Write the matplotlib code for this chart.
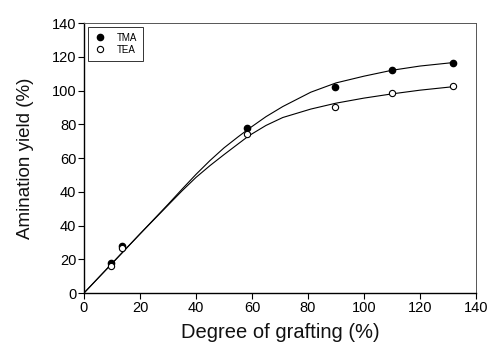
import matplotlib
matplotlib.use("Agg")
import matplotlib.pyplot as plt

plt.rcParams['font.family'] = ['Liberation Sans', 'DejaVu Sans']

# measured points (x = degree of grafting, y in axis units of 20 per tick)
grafting = [9.5, 13.6, 58.2, 89.6, 109.9, 131.7]
tma_yield = [17.8, 27.8, 98.0, 122.2, 132.1, 136.1]
tea_yield = [16.0, 26.7, 94.2, 110.4, 118.7, 122.5]

# smooth curves
curve_x = [0, 10, 20, 30, 35, 40, 45, 50, 55, 59, 65, 71, 81, 90, 100, 110, 120, 131.5]
tma_curve = [0, 17.5, 35, 52.5, 61.5, 70.3, 78.5, 86, 92.5, 97.5, 104.5, 110.5, 119, 124.5, 128.5, 132, 134.5, 136.5]
tea_curve = [0, 17.5, 35, 52, 60.5, 68.5, 75.5, 82, 88.3, 93.3, 99.3, 104, 109, 112.5, 115.5, 118, 120.2, 122.2]

x_ticks = [0, 20, 40, 60, 80, 100, 120, 140]
y_ticks = [0, 20, 40, 60, 80, 100, 120, 140, 160]
y_tick_labels = ['0', '20', '40', '40', '60', '80', '100', '120', '140']

fig = plt.figure(figsize=(4.9, 3.45), dpi=100)
ax = fig.add_axes([0.1714, 0.1507, 0.8, 0.7826])

ax.plot(curve_x, tma_curve, color='black', lw=0.8)
ax.plot(curve_x, tea_curve, color='black', lw=0.8)
ax.plot(grafting, tma_yield, 'o', color='black', ms=4.5, label='TMA')
ax.plot(grafting, tea_yield, 'o', mfc='white', mec='black', mew=0.8, ms=4.5, label='TEA')

ax.set_xlim(0, 140)
ax.set_ylim(0, 160)
ax.set_xticks(x_ticks)
ax.set_yticks(y_ticks)
ax.set_yticklabels(y_tick_labels)
ax.tick_params(direction='out', length=4, width=0.8, labelsize=10.5, pad=1.5)

for side in ['left', 'bottom']:
    ax.spines[side].set_linewidth(1.0)
for side in ['top', 'right']:
    ax.spines[side].set_linewidth(0.7)
    ax.spines[side].set_color('#555555')

ax.set_xlabel('Degree of grafting (%)', fontsize=14.5, labelpad=6, color='#111111')
ax.set_ylabel('Amination yield (%)', fontsize=13.5, labelpad=13, color='#111111')

leg = ax.legend(loc='upper left', fontsize=7, frameon=True, fancybox=False,
                edgecolor='black', handletextpad=1.2, borderpad=0.6,
                labelspacing=0.2, handlelength=1.2, borderaxespad=0.4)
leg.get_frame().set_linewidth(0.7)

fig.savefig('out.png', dpi=100)
